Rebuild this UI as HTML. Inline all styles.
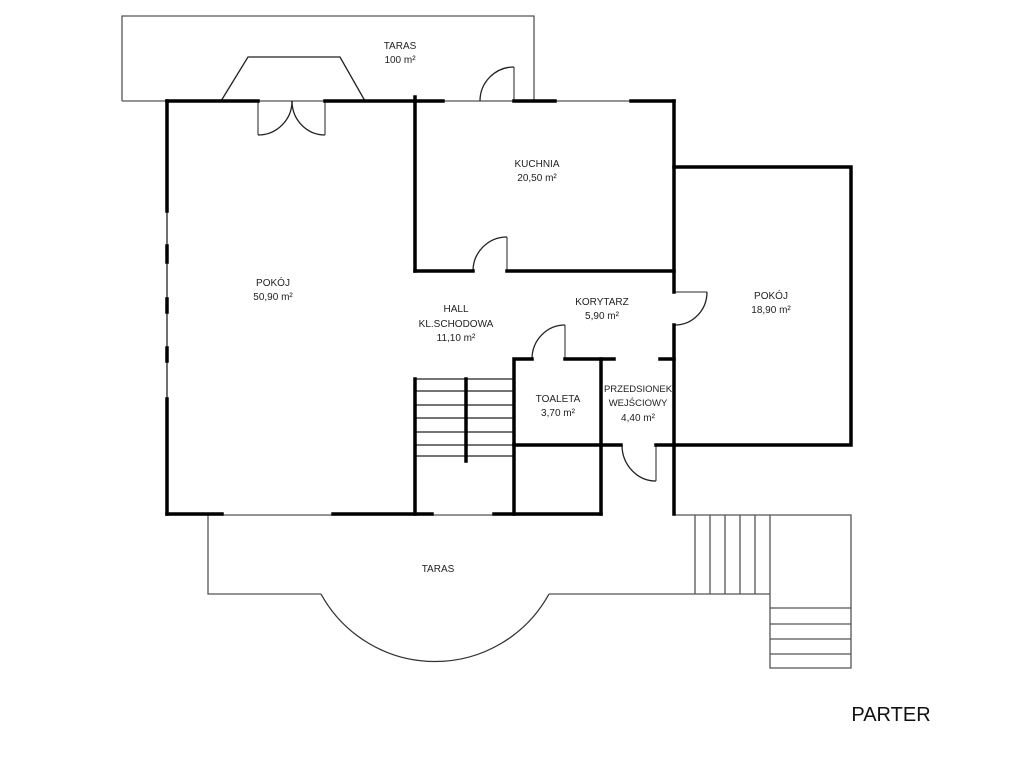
<!DOCTYPE html>
<html><head><meta charset="utf-8"><style>
html,body{margin:0;padding:0;background:#fff;}
svg{display:block;}
text{font-family:"Liberation Sans",sans-serif;font-size:10px;fill:#222;text-anchor:middle;}
</style></head><body>
<svg width="1024" height="768" viewBox="0 0 1024 768" xmlns="http://www.w3.org/2000/svg">
<g fill="none" stroke="#555" stroke-width="1.3">
  <polyline points="122,101 122,16 534,16 534,101"/>
  <line x1="122" y1="101" x2="675" y2="101"/>
  <polyline points="221,101 248,57 340,57 365,101" stroke="#222"/>
  <line x1="258" y1="101" x2="258" y2="135"/>
  <line x1="325" y1="101" x2="325" y2="135"/>
  <path d="M258,135 A34,34 0 0 0 292,101" stroke="#222"/>
  <path d="M325,135 A33,34 0 0 1 292,101" stroke="#222"/>
  <line x1="514" y1="101" x2="514" y2="67"/>
  <path d="M480,101 A34,34 0 0 1 514,67" stroke="#222"/>
  <line x1="167" y1="101" x2="167" y2="514" stroke="#222"/>
  <line x1="507" y1="271" x2="507" y2="237"/>
  <path d="M473,271 A34,34 0 0 1 507,237" stroke="#222"/>
  <line x1="675" y1="292" x2="707" y2="292"/>
  <path d="M707,292 A32,33 0 0 1 675,325" stroke="#222"/>
  <line x1="565" y1="359" x2="565" y2="325"/>
  <path d="M532,359 A33,34 0 0 1 565,325" stroke="#222"/>
  <line x1="656" y1="445" x2="656" y2="481"/>
  <path d="M622,445 A34,36 0 0 0 656,481" stroke="#222"/>
  <g stroke="#222" stroke-width="1.2">
    <line x1="415" y1="379" x2="514" y2="379"/>
    <line x1="415" y1="391" x2="514" y2="391"/>
    <line x1="415" y1="405" x2="514" y2="405"/>
    <line x1="415" y1="418" x2="514" y2="418"/>
    <line x1="415" y1="432" x2="514" y2="432"/>
    <line x1="415" y1="445" x2="514" y2="445"/>
    <line x1="415" y1="456" x2="514" y2="456"/>
  </g>
  <line x1="167" y1="515" x2="601" y2="515"/>
  <polyline points="208,515 208,594 321,594"/>
  <path d="M321,594 A130,130 0 0 0 549,594" stroke="#333"/>
  <line x1="549" y1="594" x2="770" y2="594"/>
  <polyline points="674,515 851,515 851,668 770,668 770,594"/>
  <line x1="695" y1="515" x2="695" y2="594"/>
  <line x1="710" y1="515" x2="710" y2="594"/>
  <line x1="725" y1="515" x2="725" y2="594"/>
  <line x1="740" y1="515" x2="740" y2="594"/>
  <line x1="755" y1="515" x2="755" y2="594"/>
  <line x1="770" y1="515" x2="770" y2="594"/>
  <line x1="770" y1="608" x2="851" y2="608"/>
  <line x1="770" y1="624" x2="851" y2="624"/>
  <line x1="770" y1="639" x2="851" y2="639"/>
  <line x1="770" y1="654" x2="851" y2="654"/>
</g>
<g fill="none" stroke="#000" stroke-width="3.5" stroke-linecap="square">
  <line x1="167" y1="101" x2="258" y2="101"/>
  <line x1="325" y1="101" x2="443" y2="101"/>
  <line x1="514" y1="101" x2="555" y2="101"/>
  <line x1="631" y1="101" x2="674" y2="101"/>
  <line x1="167" y1="101" x2="167" y2="211"/>
  <line x1="167" y1="246" x2="167" y2="262"/>
  <line x1="167" y1="299" x2="167" y2="312"/>
  <line x1="167" y1="348" x2="167" y2="361"/>
  <line x1="167" y1="399" x2="167" y2="514"/>
  <line x1="415" y1="97" x2="415" y2="271"/>
  <line x1="415" y1="271" x2="473" y2="271"/>
  <line x1="507" y1="271" x2="674" y2="271"/>
  <line x1="674" y1="101" x2="674" y2="292"/>
  <line x1="674" y1="325" x2="674" y2="514"/>
  <polyline points="674,167 851,167 851,445 656,445"/>
  <polyline points="532,359 514,359 514,514"/>
  <line x1="565" y1="359" x2="614" y2="359"/>
  <line x1="660" y1="359" x2="674" y2="359"/>
  <line x1="601" y1="359" x2="601" y2="514"/>
  <line x1="514" y1="445" x2="621" y2="445"/>
  <line x1="415" y1="379" x2="415" y2="514"/>
  <line x1="466" y1="379" x2="466" y2="461"/>
  <line x1="167" y1="514" x2="222" y2="514"/>
  <line x1="333" y1="514" x2="432" y2="514"/>
  <line x1="494" y1="514" x2="601" y2="514"/>
</g>
<text x="400" y="49">TARAS</text>
<text x="400" y="63">100 m²</text>
<text x="537" y="167">KUCHNIA</text>
<text x="537" y="181">20,50 m²</text>
<text x="273" y="286">POKÓJ</text>
<text x="273" y="300">50,90 m²</text>
<text x="456" y="312">HALL</text>
<text x="456" y="327">KL.SCHODOWA</text>
<text x="456" y="341">11,10 m²</text>
<text x="602" y="305">KORYTARZ</text>
<text x="602" y="319">5,90 m²</text>
<text x="771" y="299">POKÓJ</text>
<text x="771" y="313">18,90 m²</text>
<text x="558" y="402">TOALETA</text>
<text x="558" y="416">3,70 m²</text>
<text x="638" y="392" style="font-size:9.5px">PRZEDSIONEK</text>
<text x="638" y="406" style="font-size:9.5px">WEJŚCIOWY</text>
<text x="638" y="421">4,40 m²</text>
<text x="438" y="572">TARAS</text>
<text x="891" y="721" style="font-size:20px;fill:#111">PARTER</text>
</svg>
</body></html>
